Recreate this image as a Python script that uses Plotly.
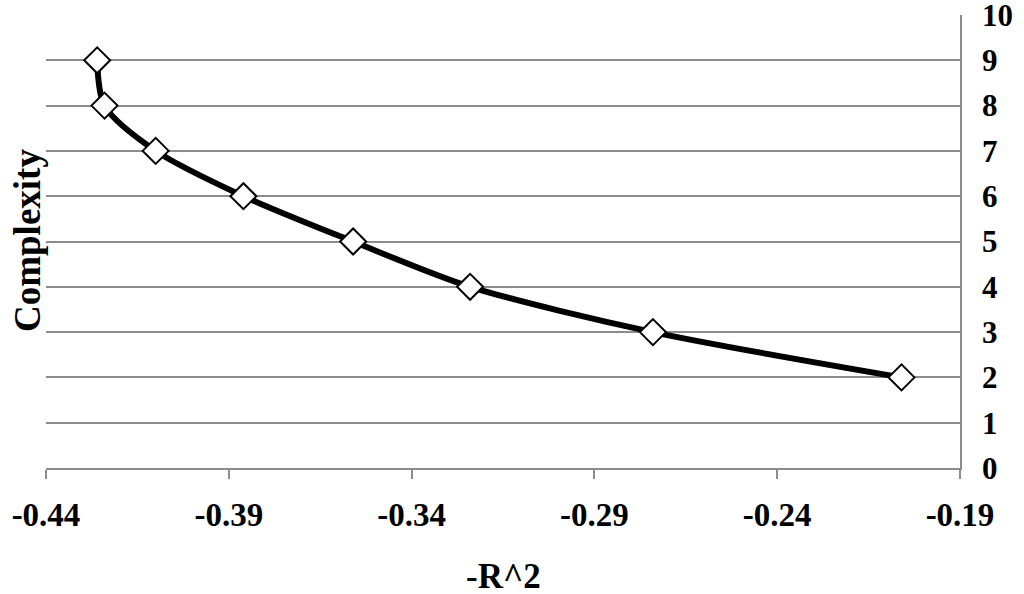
import plotly.graph_objects as go

neg_r2 = [-0.426, -0.424, -0.410, -0.386, -0.356, -0.324, -0.274, -0.206]
complexity = [9, 8, 7, 6, 5, 4, 3, 2]

x_ticks = [-0.44, -0.39, -0.34, -0.29, -0.24, -0.19]
x_tick_labels = ["-0.44", "-0.39", "-0.34", "-0.29", "-0.24", "-0.19"]
y_ticks = list(range(0, 11))

FONT = "Liberation Serif"
GRID = "#8c8c8c"
W, H = 1024, 594
ML, MT = 46, 15
MR = W - 960
MB = H - 468

fig = go.Figure()
fig.add_trace(go.Scatter(
    x=neg_r2, y=complexity, mode="lines+markers",
    line=dict(color="black", width=6, shape="spline", smoothing=0.8),
    marker=dict(symbol="diamond", size=20, color="white",
                line=dict(color="black", width=2)),
    showlegend=False, cliponaxis=False,
))

pw, ph = W - ML - MR, H - MT - MB

def px_to_paper(x, y):
    return (x - ML) / pw, (H - MB - y) / ph

cx, cy = px_to_paper(27, 241)
tx, ty = px_to_paper(503, 576)

fig.update_layout(
    width=W, height=H,
    margin=dict(l=ML, r=MR, t=MT, b=MB, autoexpand=False),
    paper_bgcolor="white", plot_bgcolor="white",
    font=dict(family=FONT, color="black"),
    xaxis=dict(
        range=[-0.44, -0.19], tickvals=x_ticks, ticktext=x_tick_labels,
        showgrid=False, zeroline=False, automargin=False,
        showline=True, linecolor=GRID, linewidth=1.5,
        ticks="outside", ticklen=9, tickwidth=1.5, tickcolor=GRID,
        ticklabelstandoff=8, ticklabeloverflow="allow",
        tickfont=dict(family=FONT, size=33, color="black", weight="bold"),
    ),
    yaxis=dict(
        range=[0, 10], tickvals=y_ticks, side="right",
        showgrid=True, gridcolor=GRID, gridwidth=1.5, zeroline=False,
        automargin=False,
        showline=True, linecolor=GRID, linewidth=1.5,
        ticks="", ticklabelstandoff=14, ticklabeloverflow="allow",
        tickfont=dict(family=FONT, size=31, color="black", weight="bold"),
    ),
    annotations=[
        dict(text="<b>Complexity</b>", textangle=-90,
             x=cx, y=cy, xanchor="center", yanchor="middle",
             xref="paper", yref="paper", showarrow=False,
             font=dict(family=FONT, size=37, color="black")),
        dict(text="<b>-R^2</b>",
             x=tx, y=ty, xanchor="center", yanchor="middle",
             xref="paper", yref="paper", showarrow=False,
             font=dict(family=FONT, size=35, color="black")),
    ],
)

fig.write_html(
    "out.html",
    config={"displayModeBar": False},
    post_script="document.body.style.margin='0';document.body.style.overflow='hidden';",
)
